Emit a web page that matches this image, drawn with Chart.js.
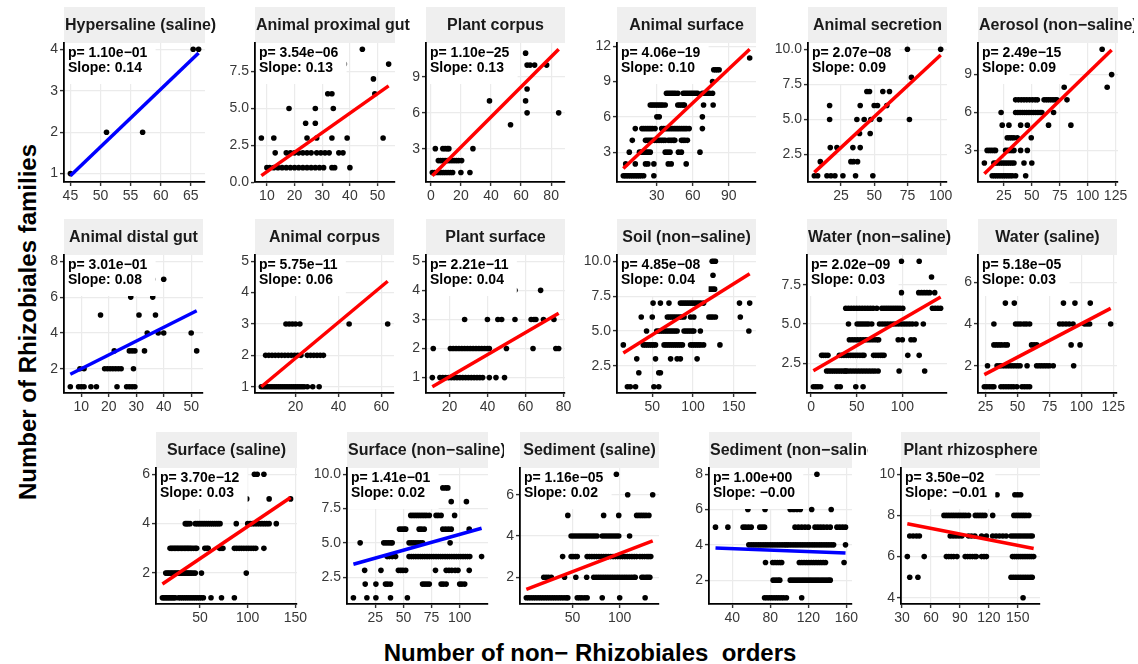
<!DOCTYPE html>
<html>
<head>
<meta charset="utf-8">
<script src="https://cdn.jsdelivr.net/npm/chart.js@4"></script>
<style>
  html, body { margin: 0; padding: 0; background: #fff; }
  body { width: 1138px; height: 664px; position: relative; overflow: hidden; font-family: "Liberation Sans", Arial, sans-serif; }
  canvas.facet { position: absolute; }
  .axis-title { position: absolute; font-weight: bold; font-size: 24px; color: #000; white-space: pre; line-height: 1; }
  #ytitle { left: 28px; top: 322px; transform: translate(-50%, -50%) rotate(-90deg); }
  #xtitle { left: 590px; top: 653px; transform: translate(-50%, -50%); }
</style>
</head>
<body>
<div id="ytitle" class="axis-title">Number of Rhizobiales families</div>
<div id="xtitle" class="axis-title">Number of non− Rhizobiales  orders</div>
<script>
// facet titles, regression stats and tick values, in panel order
const facetNames = [
  'Hypersaline (saline)', 'Animal proximal gut', 'Plant corpus', 'Animal surface', 'Animal secretion', 'Aerosol (non−saline)',
  'Animal distal gut', 'Animal corpus', 'Plant surface', 'Soil (non−saline)', 'Water (non−saline)', 'Water (saline)',
  'Surface (saline)', 'Surface (non−saline)', 'Sediment (saline)', 'Sediment (non−saline)', 'Plant rhizosphere'
];
const pValues = [1.10e-1, 3.54e-6, 1.10e-25, 4.06e-19, 2.07e-8, 2.49e-15, 3.01e-1, 5.75e-11, 2.21e-11,
  4.85e-8, 2.02e-9, 5.18e-5, 3.70e-12, 1.41e-1, 1.16e-5, 1.00e+0, 3.50e-2];
const slopes = [0.139, 0.132, 0.126, 0.096, 0.088, 0.086, 0.077, 0.057, 0.038,
  0.0367, 0.0337, 0.032, 0.026, 0.023, 0.0176, -0.0021, -0.0092];
const intercepts = [-5.305, -0.6, 0.61, 1.416, 0.794, 0.504, 1.233, 0.772, 0.268,
  2.889, 1.93, 0.81, 1.288, 3.32, 1.39, 3.868, 7.921];
const xTicks = [
  [45, 50, 55, 60, 65], [10, 20, 30, 40, 50], [0, 20, 40, 60, 80], [30, 60, 90], [25, 50, 75, 100], [25, 50, 75, 100, 125],
  [10, 20, 30, 40, 50], [20, 40, 60], [20, 40, 60, 80], [50, 100, 150], [0, 50, 100], [25, 50, 75, 100, 125],
  [50, 100, 150], [25, 50, 75, 100], [50, 100], [40, 80, 120, 160], [30, 60, 90, 120, 150]
];
const yTicks = [
  [1, 2, 3, 4], [0, 2.5, 5, 7.5], [3, 6, 9], [3, 6, 9, 12], [2.5, 5, 7.5, 10], [3, 6, 9],
  [2, 4, 6, 8], [1, 2, 3, 4, 5], [1, 2, 3, 4, 5], [2.5, 5, 7.5, 10], [2.5, 5, 7.5], [2, 4, 6],
  [2, 4, 6], [2.5, 5, 7.5, 10], [2, 4, 6], [2, 4, 6, 8], [4, 6, 8, 10]
];

// samples per facet: [families, [orders, ...]]
const hypersalinePts = [[1, [45]], [2, [51, 57]], [4, [65.4, 66.3]]];
const proximalGutPts = [
  [1, [10, 11, 12.5, 14, 15.5, 17, 18.5, 20, 21.5, 23, 24.5, 26, 27.5, 29, 30.5, 33.5, 34.5, 40]],
  [2, [13, 17, 18.5, 20, 21.5, 23, 24.5, 26, 28, 29.5, 31, 32.5, 36, 37.5]],
  [3, [8, 12.5, 24.5, 28, 33.5, 39, 52]],
  [4, [24, 27.5]], [5, [18, 27.5, 34]], [6, [32, 33.5, 49]], [7, [48.5]], [8, [54, 38]], [9, [44.5]]
];
const plantCorpusPts = [
  [1, [1, 2.5, 4, 5.5, 7, 8.5, 10, 11.5, 13, 14.5, 20, 26]],
  [2, [5, 6.5, 8, 9.5, 11, 12.5, 14, 15.5, 17, 18.5, 20.5]],
  [3, [3, 8, 9.5, 11, 12, 28]],
  [5, [53]], [6, [64, 85]], [7, [39, 63]], [8, [64]], [10, [64, 66, 69, 77]], [11, [63]]
];
const animalSurfacePts = [
  [1, [2, 3.5, 5, 6.5, 8, 9.5, 11, 12.5, 14, 15.5, 17, 19, 27.5]],
  [2, [4, 12, 20.5, 22.5, 27.5, 39.5, 42, 54.5]],
  [3, [7, 15.5, 17, 18.5, 20, 21.5, 23, 24.5, 37, 39, 41, 48, 50.5, 66]],
  [4, [9.5, 20.5, 22, 23.5, 25, 26.5, 28, 29.5, 31, 32.5, 34, 35.5, 37, 39.5, 41, 42.5, 44, 45, 50.5, 52, 53.5, 55.5]],
  [5, [12, 17.5, 19, 20.5, 22, 23.5, 25, 26.5, 28.5, 34, 35.5, 37, 38.5, 40, 41.5, 43, 44.5, 46, 47.5, 49, 50.5, 52, 53.5, 55, 57, 68]],
  [6, [30, 32, 68]],
  [7, [24.5, 26, 27.5, 29, 30.5, 32, 33.5, 35, 37, 47.5, 49, 50.5, 52, 53, 69, 77]],
  [8, [38, 39.5, 41, 42.5, 44, 45.5, 47.5, 52, 53.5, 55, 56.5, 58, 59.5, 61, 62.5, 64, 68, 69.5, 71, 72.5, 74, 76.5]],
  [9, [76.5]], [10, [77.5, 79, 80.5, 82]], [11, [107.5]]
];
const secretionPts = [
  [1, [5, 7.5, 14.5, 17.5, 20.5, 26.5, 36, 49]],
  [2, [9.5, 32.5, 34.5, 37.5]],
  [3, [17, 22, 34, 39.5]],
  [4, [39, 47]],
  [5, [16.5, 37, 42.5, 47.5, 54, 76.5]],
  [6, [16.5, 39.5, 50, 52.5, 59.5]],
  [7, [44.5, 46.5, 56.5, 61.5]],
  [8, [78]], [10, [75, 100]]
];
const aerosolPts = [
  [1, [14.5, 16.5, 18.5, 20.5, 22.5, 24.5, 26.5, 28.5, 30.5, 32.5, 35.5, 44.5]],
  [2, [7.5, 16, 18, 20, 22, 24, 26, 28, 30, 32, 34, 43, 50]],
  [3, [10, 12, 14, 16, 17.5, 26.5, 28.5, 30.5, 32.5, 34, 40, 46]],
  [4, [28, 30, 32, 34, 37, 49.5]],
  [5, [23.5, 29.5, 40, 46, 65, 85]],
  [6, [22.5, 35.5, 37.5, 39.5, 41.5, 43.5, 45.5, 47.5, 49.5, 51.5, 53.5, 55.5, 57.5, 59, 69.5]],
  [7, [35.5, 38, 40.5, 43, 45.5, 48, 50.5, 53, 55, 61, 63, 65, 67, 69, 71, 72.5, 81.5]],
  [8, [79, 117.5]], [9, [121.5]], [11, [113]]
];
const distalGutPts = [
  [1, [6, 9, 10, 11, 13.5, 15.5, 23, 26.5, 27.5, 28.5, 29.5]],
  [2, [9.5, 11, 18.5, 19.5, 20.5, 21.5, 22.5, 23.5, 24.5, 29]],
  [3, [22, 27.5, 28.5, 29.5, 33, 52]],
  [4, [34, 38, 40, 50]],
  [5, [17, 31, 37]], [6, [28, 36]], [7, [40, 36]], [8, [25]]
];
const animalCorpusPts = [
  [1, [4, 5, 6, 7, 8, 9, 10, 11, 12, 13, 14, 15, 16, 17, 18, 19, 20, 21, 22, 23, 24, 25.5, 28, 31]],
  [2, [6, 7.5, 9, 10.5, 12, 13.5, 15, 16.5, 18, 19.5, 21, 22.5, 25.5, 27, 28.5, 30, 31.5, 33]],
  [3, [15.5, 17, 18.5, 20, 22, 45, 63]],
  [5, [20]]
];
const plantSurfacePts = [
  [1, [11, 15, 16.5, 18, 19.5, 21, 22.5, 24, 25.5, 27, 28.5, 30, 31.5, 33, 34.5, 36, 37.5, 41, 44.5, 49]],
  [2, [11.5, 20.5, 22, 23.5, 25, 26.5, 28, 29.5, 31, 32.5, 34, 35.5, 37, 38.5, 40, 41, 50, 64, 76, 77.5]],
  [3, [28, 40, 45.5, 47.5, 54.5, 63, 64.5, 65.5, 69.5, 75]],
  [4, [54.5, 68]], [5, [30]]
];
const soilPts = [
  [1, [19.5, 23, 29.5, 52, 58]],
  [2, [33.5, 58, 60]],
  [3, [31, 54, 72.5, 80.5, 84.5, 105]],
  [4, [14.5, 39, 41.5, 44, 46.5, 49, 51.5, 54, 64.5, 67, 69.5, 72, 74.5, 77, 79.5, 82, 84.5, 87, 97, 99.5, 102, 104.5, 107, 109.5, 113, 133]],
  [5, [43, 55.5, 58, 60.5, 63, 65.5, 68, 70.5, 73, 75.5, 78, 80.5, 89, 91.5, 94, 96.5, 99, 101, 109, 168.5]],
  [6, [36.5, 50, 68.5, 71, 73.5, 76, 78.5, 81, 83.5, 86, 89, 97, 101, 119.5, 122, 124.5, 127.5, 158]],
  [7, [51, 60, 70.5, 84.5, 87, 89.5, 92, 94.5, 97, 99.5, 102, 104.5, 107, 109.5, 113, 157, 169.5]],
  [8, [116.5, 119, 121.5, 124, 126.5]],
  [9, [124.5]], [10, [123.5, 125.5, 127.5]]
];
const waterFreshPts = [
  [1, [2.5, 5, 7.5, 10.5, 28.5, 32, 49, 57]],
  [2, [17, 19.5, 22, 24.5, 27, 29.5, 32, 34.5, 37, 38, 40, 43, 46, 49, 52, 55, 58, 61, 64, 67, 70, 73.5, 96.5, 124.5]],
  [3, [11.5, 13.5, 16, 18.5, 31, 33.5, 36, 38.5, 41, 43.5, 46, 48.5, 51, 53.5, 56, 58, 68.5, 71, 73.5, 76, 78, 80, 106, 118.5]],
  [4, [42, 45, 48, 51, 54, 57, 60, 63, 66, 69, 72, 74, 95.5, 100, 109.5, 113]],
  [5, [41, 50.5, 53, 55.5, 58, 60.5, 63, 66.5, 75, 78, 81, 84, 87, 90, 93, 96, 99, 102, 105, 108, 111, 115, 123]],
  [6, [38, 41, 44, 47, 50, 53, 56, 59, 62, 65, 68, 72, 77.5, 80, 82.5, 85, 87.5, 90, 92.5, 95, 97.5, 100.5, 133, 136, 139, 142]],
  [7, [99, 118, 121, 124, 127, 130, 135.5]],
  [8, [132]], [9, [118.5, 99]]
];
const waterSalinePts = [
  [1, [24, 26, 28, 30, 31.5, 37, 39, 41, 43, 45, 47, 49.5, 53.5, 55.5, 57.5, 59.5]],
  [2, [26.5, 34, 36, 38, 40, 42, 44, 46, 48, 50, 52, 57.5, 65, 67, 69, 71, 73, 75, 78, 94]],
  [3, [31.5, 33.5, 35.5, 37.5, 40, 42, 61, 63, 65, 92, 99]],
  [4, [31.5, 48.5, 50.5, 52.5, 55, 57, 59.5, 83, 85.5, 88, 90.5, 93.5, 102.5, 104.5, 106.5, 123]],
  [5, [40.5, 47.5, 86, 95, 107]], [7, [50]]
];
const surfaceSalinePts = [
  [1, [10.5, 12, 13.5, 15, 16.5, 18, 19.5, 21, 22.5, 24, 27.5, 29.5, 31.5, 33.5, 35.5, 37.5, 39.5, 41.5, 43.5, 45.5, 47.5, 49.5, 51.5, 53.5, 61.5, 72.5, 86]],
  [2, [14, 15.5, 17, 18.5, 20, 21.5, 23, 24.5, 26, 27.5, 29, 30.5, 32, 33.5, 35, 36.5, 38, 39.5, 41, 43, 45, 51.5, 98.5]],
  [3, [18.5, 20, 21.5, 23, 24.5, 26, 27.5, 29, 30.5, 32, 33.5, 35, 36.5, 38, 39.5, 41, 43, 45, 46.5, 55, 57, 58.5, 70.5, 72, 74, 86, 88.5, 91, 93.5, 96, 98.5, 101, 103.5, 106, 108.5, 117]],
  [4, [34.5, 36, 37.5, 39.5, 45, 47, 49, 51, 53, 55, 57, 59, 61, 63, 65, 67, 69, 71, 88, 100, 102.5, 105, 107.5, 110, 112.5, 115, 117.5, 120, 122.5, 130]],
  [5, [99, 122.5, 145]], [6, [107, 110, 117]]
];
const surfaceFreshPts = [
  [1, [5.5, 17.5, 25.5, 38.5, 53.5]],
  [2, [16, 25.5, 34, 36, 38.5, 67, 69, 71, 73, 83.5, 85.5, 88, 100, 102, 104.5]],
  [3, [15.5, 30, 45.5, 47.5, 49.5, 52, 78.5, 88, 90.5, 93, 96, 98.5, 108.5]],
  [4, [35.5, 37.5, 40, 43, 55, 57, 59, 61, 63, 65, 67, 69, 71, 73, 75, 77, 79, 81, 83, 85, 87, 89, 91, 93, 95, 97, 99, 101, 103, 105, 107, 109, 119.5]],
  [5, [11.5, 32.5, 34.5, 36.5, 38.5, 40, 55, 57, 59, 61, 63, 65, 67, 91.5]],
  [6, [46.5, 48.5, 50.5, 52, 64, 66, 68.5, 85, 87.5, 90, 92.5, 108.5]],
  [7, [56.5, 58.5, 60.5, 62.5, 64.5, 66.5, 68.5, 70.5, 73, 79, 81, 83.5, 95.5]],
  [8, [92.5, 106]], [9, [85, 87.5, 89.5]], [10, [40]]
];
const sedimentSalinePts = [
  [1, [1, 3.5, 6, 8.5, 11, 13.5, 16, 18.5, 21, 23.5, 26, 28.5, 31, 33.5, 36, 38.5, 41, 43.5, 45, 55, 57.5, 60, 63, 65.5, 81.5, 100, 127]],
  [2, [19.5, 22, 24.5, 27.5, 41.5, 53.5, 65, 72.5, 75, 77.5, 80, 82.5, 85, 87.5, 90, 92.5, 95, 97.5, 100, 102.5, 105, 107.5, 110, 112.5, 115, 116.5, 123.5, 125.5, 128, 130, 132]],
  [3, [39.5, 48.5, 50.5, 53, 55, 65.5, 68, 70.5, 73, 75.5, 78, 80.5, 83, 85.5, 88, 90.5, 93, 95.5, 98, 100.5, 103, 105.5, 108, 110.5, 113, 115.5, 118, 121.5, 124, 126.5, 129, 131, 133]],
  [4, [48.5, 51, 53.5, 56, 58.5, 61, 63.5, 66, 68.5, 71, 73.5, 76, 81.5, 84, 86.5, 89, 91.5, 94, 96.5, 99, 110.5]],
  [5, [45, 83, 99, 118, 120.5, 123, 125.5, 128, 131]],
  [6, [108.5, 135]], [7, [96.5]]
];
const sedimentFreshPts = [
  [1, [74, 76.5, 79, 81.5, 84, 86.5, 89, 91.5, 94, 97, 113]],
  [2, [83, 85.5, 88, 90, 101, 103.5, 106, 108.5, 111, 113.5, 116, 118.5, 121, 123.5, 126, 128.5, 131, 133.5, 136, 138.5, 141, 143]],
  [3, [75, 82.5, 85, 87.5, 90, 92, 110.5, 113, 115.5, 118, 120.5, 123, 125.5, 128, 130.5, 133, 135.5, 138, 157.5]],
  [4, [57.5, 60, 62.5, 65, 67.5, 70, 72.5, 75, 77.5, 80, 82.5, 85, 87.5, 90, 92.5, 95, 97, 99, 101.5, 104, 106.5, 109, 111.5, 114, 116.5, 119, 121.5, 124, 126.5, 129, 131.5, 134, 136.5, 139, 141.5, 144, 146.5, 159]],
  [5, [22.5, 35.5, 51.5, 54, 57, 60, 69, 71.5, 74, 106, 109.5, 113, 116.5, 120, 127, 130, 133, 136, 139.5, 143, 150, 153, 156, 159]],
  [6, [56.5, 74.5, 101, 104.5, 108, 111.5, 123.5, 144]],
  [8, [129]]
];
const rhizospherePts = [
  [4, [155.5]],
  [5, [38, 46.5, 143, 145.5, 148, 150.5, 153, 155.5, 158, 160.5, 163, 165]],
  [6, [35.5, 53, 76, 78.5, 81, 83.5, 87, 95.5, 98, 100.5, 103, 105.5, 107, 112.5, 115, 117.5, 144.5, 146.5, 148.5, 150.5, 152.5, 154.5, 156.5, 158.5, 160.5, 162.5, 164.5, 166.5]],
  [7, [38, 41.5, 45, 48, 80, 83, 86, 89, 92, 99, 102, 105.5, 112.5, 117.5, 124, 127.5, 131, 134.5, 138, 143, 145.5, 148, 150.5, 153, 155.5, 158, 160.5, 163, 165]],
  [8, [73.5, 76, 78.5, 81, 83.5, 86, 88.5, 91, 93.5, 96, 99, 106, 108.5, 111, 113.5, 116, 124, 146, 148.5, 151, 153.5, 156, 158.5, 161.5]],
  [9, [128.5, 147, 150, 153]], [10, [100]]
];

const facetPoints = [
  hypersalinePts, proximalGutPts, plantCorpusPts, animalSurfacePts, secretionPts, aerosolPts,
  distalGutPts, animalCorpusPts, plantSurfacePts, soilPts, waterFreshPts, waterSalinePts,
  surfaceSalinePts, surfaceFreshPts, sedimentSalinePts, sedimentFreshPts, rhizospherePts
];

// panel boxes on the page: [left, top, width, height] of each plotting area
const panelBoxes = [
  [64, 43, 141, 139], [255, 43, 140, 139], [426, 43, 139, 139], [617, 43, 139, 139], [808, 43, 139, 139], [978, 43, 140, 139],
  [64, 255, 139, 138], [255, 255, 139, 138], [426, 255, 139, 138], [617, 255, 139, 138], [807, 255, 140, 138], [978, 255, 139, 138],
  [156, 468, 141, 136], [347, 468, 141, 136], [520, 468, 139, 136], [709, 468, 143, 136], [901, 468, 139, 136]
];

const FONT = '"Liberation Sans", Arial, Helvetica, sans-serif';
const STRIP_H = 36;
const TOP_PAD = 37;
const Y_AXIS_W = 40;
const X_AXIS_H = 24;
const RIGHT_PAD = 16;

function fmtP(p) {
  const [m, e] = p.toExponential(2).split('e');
  return 'p= ' + m + 'e' + (e[0] === '-' ? '−' : '+') + e.slice(1).padStart(2, '0');
}
function fmtSlope(s) {
  return 'Slope: ' + s.toFixed(2).replace('-', '−');
}

// grey facet strip above the panel, white label box with the fit stats
const facetDecor = {
  id: 'facetDecor',
  beforeDraw(chart, args, opts) {
    const { ctx, chartArea: a } = chart;
    ctx.save();
    ctx.fillStyle = '#EFEFEF';
    ctx.fillRect(a.left, a.top - STRIP_H, a.right - a.left, STRIP_H);
    ctx.font = 'bold 16px ' + FONT;
    ctx.fillStyle = '#1A1A1A';
    ctx.textBaseline = 'middle';
    const w = ctx.measureText(opts.title).width;
    const mid = a.top - STRIP_H / 2 + 1;
    if (w > a.right - a.left - 4) {
      ctx.textAlign = 'left';
      ctx.fillText(opts.title, a.left + 1, mid);
    } else {
      ctx.textAlign = 'center';
      ctx.fillText(opts.title, (a.left + a.right) / 2, mid);
    }
    ctx.restore();
  },
  afterDatasetsDraw(chart, args, opts) {
    const { ctx, chartArea: a } = chart;
    ctx.save();
    ctx.font = 'bold 14px ' + FONT;
    const w = Math.max(ctx.measureText(opts.lines[0]).width, ctx.measureText(opts.lines[1]).width);
    ctx.fillStyle = '#FFFFFF';
    ctx.fillRect(a.left + 1.2, a.top, w + 11, 41);
    ctx.fillStyle = '#000';
    ctx.textAlign = 'left';
    ctx.textBaseline = 'middle';
    ctx.fillText(opts.lines[0], a.left + 4, a.top + 10);
    ctx.fillText(opts.lines[1], a.left + 4, a.top + 25.5);
    ctx.restore();
  }
};

function axisStyle(ticks, digits) {
  return {
    type: 'linear',
    afterBuildTicks: s => { s.ticks = ticks.map(v => ({ value: v })); },
    grid: { color: '#EBEBEB', lineWidth: 1.2, drawTicks: true, tickLength: 4, tickColor: '#333', tickWidth: 1.4 },
    border: { display: true, color: '#000', width: 1.8 },
    ticks: {
      autoSkip: false, maxRotation: 0, padding: 2, color: '#383838',
      font: { family: FONT, size: 14 },
      callback: v => v.toFixed(digits)
    }
  };
}

function drawFacet(i) {
  const pts = [];
  facetPoints[i].forEach(([y, xs]) => xs.forEach(x => pts.push({ x: x, y: y })));
  const xs = pts.map(p => p.x);
  const x0 = Math.min(...xs), x1 = Math.max(...xs);
  const fit = [x0, x1].map(x => ({ x: x, y: intercepts[i] + slopes[i] * x }));
  const ys = pts.map(p => p.y).concat(fit.map(p => p.y));
  const y0 = Math.min(...ys), y1 = Math.max(...ys);
  const xPad = (x1 - x0) * 0.05, yPad = (y1 - y0) * 0.05;

  const [left, top, w, h] = panelBoxes[i];
  const cv = document.createElement('canvas');
  cv.className = 'facet';
  cv.width = Y_AXIS_W + w + RIGHT_PAD;
  cv.height = TOP_PAD + h + X_AXIS_H;
  cv.style.left = (left - Y_AXIS_W) + 'px';
  cv.style.top = (top - TOP_PAD) + 'px';
  document.body.appendChild(cv);

  const yDigits = yTicks[i].some(v => !Number.isInteger(v)) ? 1 : 0;
  const xAxis = axisStyle(xTicks[i], 0);
  xAxis.min = x0 - xPad;
  xAxis.max = x1 + xPad;
  xAxis.afterFit = s => { s.height = X_AXIS_H; s.paddingLeft = 0; s.paddingRight = 0; };
  const yAxis = axisStyle(yTicks[i], yDigits);
  yAxis.min = y0 - yPad;
  yAxis.max = y1 + yPad;
  yAxis.afterFit = s => { s.width = Y_AXIS_W; s.paddingTop = 0; s.paddingBottom = 0; };

  new Chart(cv, {
    type: 'scatter',
    data: {
      datasets: [
        {
          type: 'line', data: fit, order: 0,
          borderColor: pValues[i] < 0.05 ? '#FF0000' : '#0000FF',
          borderWidth: 3.5, pointRadius: 0, fill: false, tension: 0
        },
        {
          data: pts, order: 1,
          backgroundColor: '#000', borderWidth: 0, pointRadius: 2.8
        }
      ]
    },
    options: {
      responsive: false,
      animation: false,
      events: [],
      layout: { padding: { top: TOP_PAD, right: RIGHT_PAD, left: 0, bottom: 0 } },
      plugins: {
        legend: { display: false },
        tooltip: { enabled: false },
        facetDecor: { title: facetNames[i], lines: [fmtP(pValues[i]), fmtSlope(slopes[i])] }
      },
      scales: { x: xAxis, y: yAxis }
    },
    plugins: [facetDecor]
  });
}

for (let i = 0; i < facetNames.length; i++) drawFacet(i);
</script>
</body>
</html>
